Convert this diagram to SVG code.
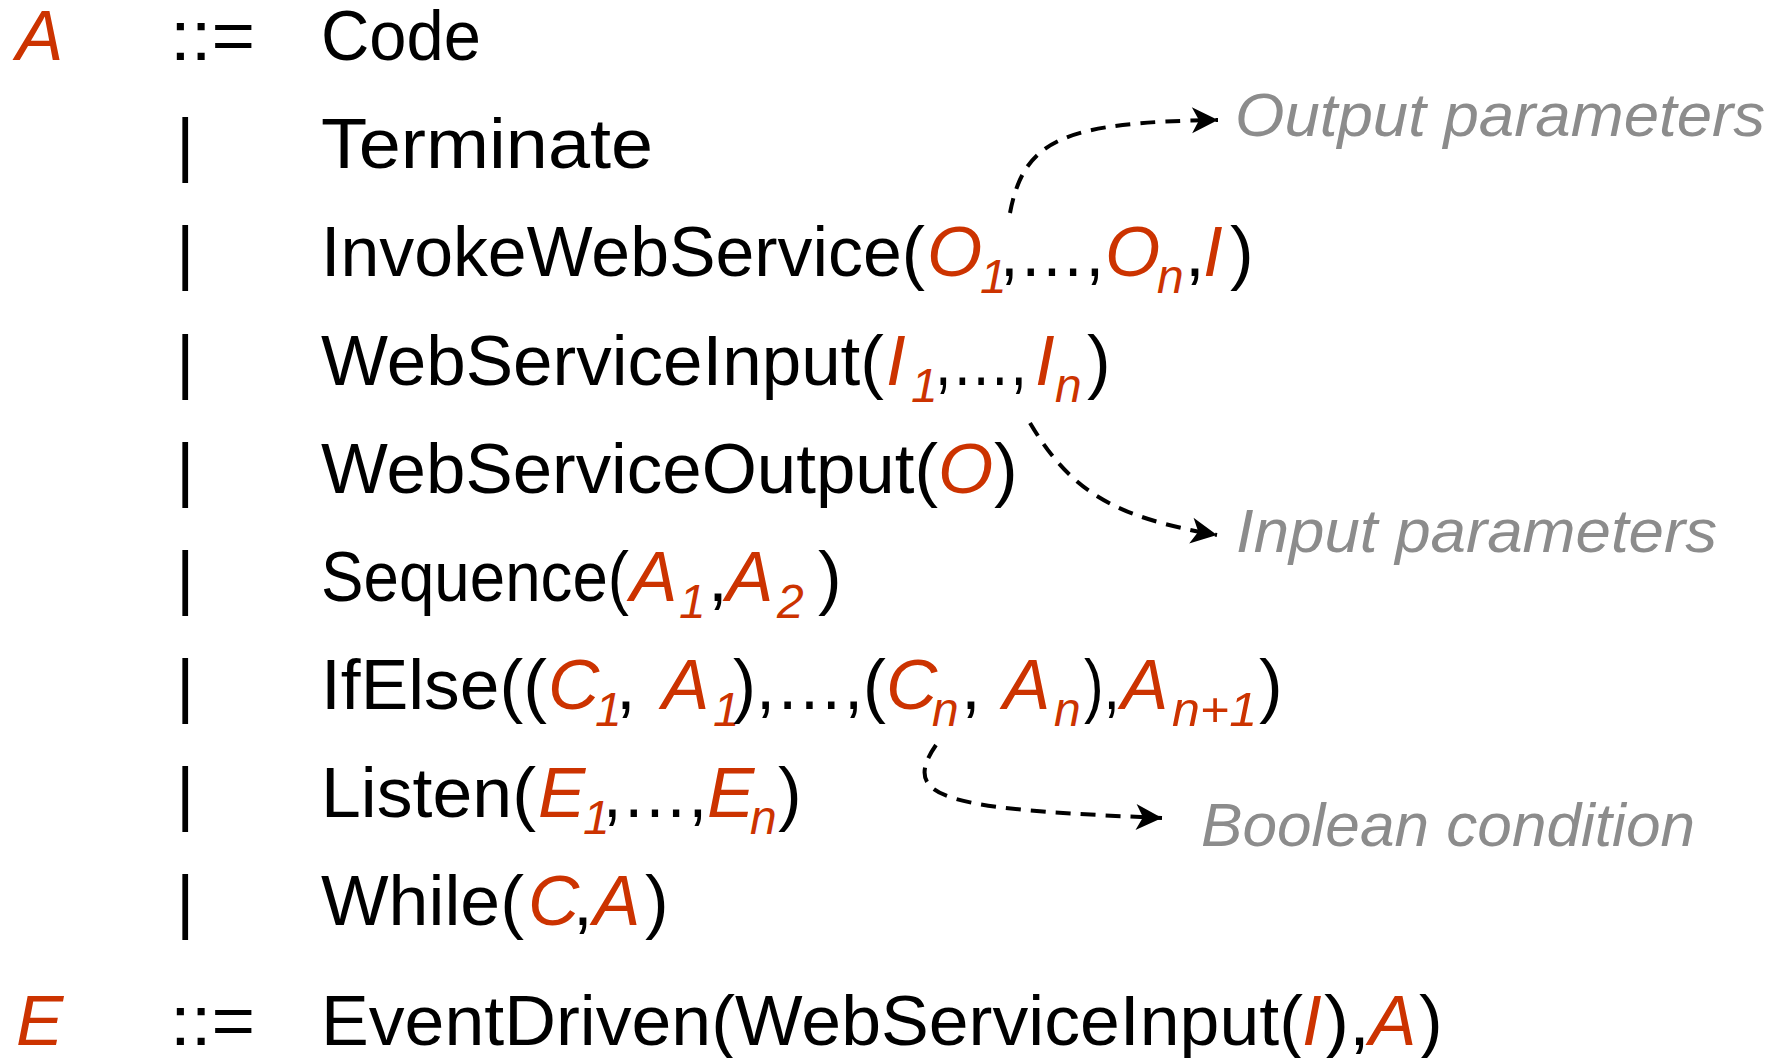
<svg xmlns="http://www.w3.org/2000/svg" width="1780" height="1058" viewBox="0 0 1780 1058">
<style>
text{font-family:"Liberation Sans",Arial,sans-serif;font-size:71px;fill:#000}
.r{fill:#cc3300;font-style:italic}
.s{font-size:48px}
.lbl{fill:#8c8c8c;font-style:italic;font-size:61px}
.con{fill:none;stroke:#000;stroke-width:4;stroke-dasharray:15 10;marker-end:url(#ah)}
</style>
<defs>
<marker id="ah" markerUnits="userSpaceOnUse" markerWidth="30" markerHeight="30" refX="26" refY="13" orient="auto" overflow="visible">
<path d="M0,0 L26,13 L0,26 L7,13 Z" fill="#000"/>
</marker>
</defs>
<rect width="1780" height="1058" fill="#fff"/>

<g id="row-A">
<text class="r" x="16" y="60">A</text>
<text x="170" y="60" textLength="85" lengthAdjust="spacingAndGlyphs">::=</text>
<text x="321" y="60" textLength="160" lengthAdjust="spacingAndGlyphs">Code</text>
</g>
<g id="row-terminate">
<text x="176" y="168">|</text>
<text x="321" y="168" textLength="332" lengthAdjust="spacingAndGlyphs">Terminate</text>
</g>
<g id="row-invoke">
<text x="176" y="276">|</text>
<text x="321" y="276" textLength="604" lengthAdjust="spacingAndGlyphs">InvokeWebService(</text>
<text class="r" x="927" y="276">O</text>
<text class="r s" x="980" y="293">1</text>
<text x="1000" y="276" textLength="104" lengthAdjust="spacingAndGlyphs">,…,</text>
<text class="r" x="1105" y="276">O</text>
<text class="r s" x="1157" y="293">n</text>
<text x="1185" y="276">,</text>
<text class="r" x="1203" y="276">I</text>
<text x="1230" y="276">)</text>
</g>
<g id="row-wsinput">
<text x="176" y="385">|</text>
<text x="321" y="385" textLength="563" lengthAdjust="spacingAndGlyphs">WebServiceInput(</text>
<text class="r" x="886" y="385">I</text>
<text class="r s" x="911" y="402">1</text>
<text x="935" y="385" textLength="92" lengthAdjust="spacingAndGlyphs">,…,</text>
<text class="r" x="1035" y="385">I</text>
<text class="r s" x="1055" y="402">n</text>
<text x="1087" y="385">)</text>
</g>
<g id="row-wsoutput">
<text x="176" y="493">|</text>
<text x="321" y="493" textLength="617" lengthAdjust="spacingAndGlyphs">WebServiceOutput(</text>
<text class="r" x="938" y="493">O</text>
<text x="994" y="493">)</text>
</g>
<g id="row-sequence">
<text x="176" y="601">|</text>
<text x="321" y="601" textLength="308" lengthAdjust="spacingAndGlyphs">Sequence(</text>
<text class="r" x="630" y="601">A</text>
<text class="r s" x="679" y="618">1</text>
<text x="708" y="601">,</text>
<text class="r" x="726" y="601">A</text>
<text class="r s" x="777" y="618">2</text>
<text x="818" y="601">)</text>
</g>
<g id="row-ifelse">
<text x="176" y="709">|</text>
<text x="321" y="709" textLength="226" lengthAdjust="spacingAndGlyphs">IfElse((</text>
<text class="r" x="548" y="709">C</text>
<text class="r s" x="595" y="726">1</text>
<text x="616" y="709">,</text>
<text class="r" x="662" y="709">A</text>
<text class="r s" x="713" y="726">1</text>
<text x="733" y="709" textLength="153" lengthAdjust="spacingAndGlyphs">),…,(</text>
<text class="r" x="886" y="709">C</text>
<text class="r s" x="932" y="726">n</text>
<text x="961" y="709">,</text>
<text class="r" x="1003" y="709">A</text>
<text class="r s" x="1054" y="726">n</text>
<text x="1084" y="709" textLength="36" lengthAdjust="spacingAndGlyphs">),</text>
<text class="r" x="1121" y="709">A</text>
<text class="r s" x="1172" y="726" textLength="85" lengthAdjust="spacingAndGlyphs">n+1</text>
<text x="1259" y="709">)</text>
</g>
<g id="row-listen">
<text x="176" y="817">|</text>
<text x="321" y="817" textLength="215" lengthAdjust="spacingAndGlyphs">Listen(</text>
<text class="r" x="538" y="817">E</text>
<text class="r s" x="583" y="834">1</text>
<text x="603" y="817" textLength="104" lengthAdjust="spacingAndGlyphs">,…,</text>
<text class="r" x="707" y="817">E</text>
<text class="r s" x="750" y="834">n</text>
<text x="778" y="817">)</text>
</g>
<g id="row-while">
<text x="176" y="925">|</text>
<text x="321" y="925" textLength="203" lengthAdjust="spacingAndGlyphs">While(</text>
<text class="r" x="528" y="925">C</text>
<text x="573" y="925">,</text>
<text class="r" x="593" y="925">A</text>
<text x="645" y="925">)</text>
</g>
<g id="row-E">
<text class="r" x="16" y="1045">E</text>
<text x="170" y="1045" textLength="85" lengthAdjust="spacingAndGlyphs">::=</text>
<text x="321" y="1045" textLength="982" lengthAdjust="spacingAndGlyphs">EventDriven(WebServiceInput(</text>
<text class="r" x="1302" y="1045">I</text>
<text x="1324" y="1045" textLength="46" lengthAdjust="spacingAndGlyphs">),</text>
<text class="r" x="1369" y="1045">A</text>
<text x="1419" y="1045">)</text>
</g>

<g id="label-output"><text class="lbl" x="1235" y="136" textLength="530" lengthAdjust="spacingAndGlyphs">Output parameters</text></g>
<g id="label-input"><text class="lbl" x="1236" y="552" textLength="481" lengthAdjust="spacingAndGlyphs">Input parameters</text></g>
<g id="label-boolean"><text class="lbl" x="1201" y="846" textLength="494" lengthAdjust="spacingAndGlyphs">Boolean condition</text></g>

<g id="connectors">
<path class="con" d="M1010,213 C1024,140 1062,122 1218,120"/>
<path class="con" d="M1030,423 C1070,490 1112,517 1217,535"/>
<path class="con" d="M936,745 C898,800 950,809 1162,818"/>
</g>
</svg>
